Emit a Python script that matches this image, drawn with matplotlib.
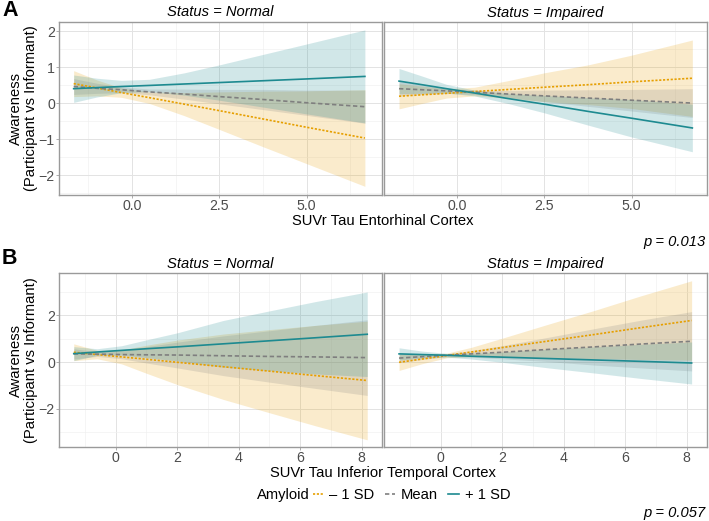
#!/usr/bin/env python
"""
Interaction plots: awareness vs tau SUVr, by amyloid level, faceted by status
"""
import numpy as np
import matplotlib.pyplot as plt
from matplotlib.ticker import FixedLocator
from matplotlib.lines import Line2D

plt.rcParams['font.family'] = ['Liberation Sans', 'DejaVu Sans']

LEVELS = ['– 1 SD', 'Mean', '+ 1 SD']
COLORS = ['#E69F00', '#7F7F7F', '#1D8A90']
STYLES = [(0, (1.3, 1.0)), (0, (2.6, 1.6)), '-']

# Panel A - entorhinal cortex (fits and CI half widths: -1SD, mean, +1SD)
ent_x_normal = [-1.67, -1.0, -0.3, 0.5, 1.5, 2.5, 3.75, 5.0, 6.67]
ent_fit_normal = [
    [0.54, 0.42, 0.29, 0.15, -0.03, -0.21, -0.44, -0.67, -0.97],
    [0.46, 0.41, 0.37, 0.31, 0.25, 0.18, 0.10, 0.01, -0.10],
    [0.40, 0.43, 0.46, 0.49, 0.53, 0.57, 0.62, 0.67, 0.74],
]
ent_ci_normal = [
    [0.36, 0.22, 0.13, 0.16, 0.32, 0.52, 0.77, 1.01, 1.34],
    [0.22, 0.14, 0.08, 0.08, 0.14, 0.20, 0.28, 0.35, 0.46],
    [0.38, 0.26, 0.17, 0.17, 0.31, 0.49, 0.73, 0.97, 1.29],
]
ent_x_impaired = [-1.66, -1.0, -0.3, 0.5, 1.5, 2.5, 3.75, 5.0, 6.74]
ent_fit_impaired = [
    [0.19, 0.23, 0.27, 0.32, 0.38, 0.44, 0.51, 0.59, 0.69],
    [0.40, 0.37, 0.34, 0.30, 0.25, 0.20, 0.14, 0.08, 0.00],
    [0.61, 0.51, 0.40, 0.28, 0.12, -0.03, -0.23, -0.42, -0.69],
]
ent_ci_impaired = [
    [0.35, 0.24, 0.13, 0.12, 0.25, 0.40, 0.55, 0.74, 1.06],
    [0.20, 0.13, 0.07, 0.06, 0.10, 0.16, 0.23, 0.30, 0.40],
    [0.35, 0.24, 0.12, 0.08, 0.14, 0.24, 0.38, 0.52, 0.66],
]

# Panel B - inferior temporal cortex
it_x_normal = [-1.36, -0.6, 0.2, 1.0, 2.0, 3.5, 5.0, 6.5, 8.18]
it_fit_normal = [
    [0.42, 0.32, 0.22, 0.12, -0.01, -0.20, -0.39, -0.58, -0.79],
    [0.35, 0.34, 0.32, 0.31, 0.30, 0.27, 0.24, 0.22, 0.19],
    [0.36, 0.43, 0.50, 0.57, 0.65, 0.78, 0.91, 1.04, 1.19],
]
it_ci_normal = [
    [0.36, 0.18, 0.30, 0.60, 0.95, 1.40, 1.78, 2.15, 2.54],
    [0.22, 0.10, 0.18, 0.35, 0.55, 0.85, 1.10, 1.35, 1.62],
    [0.30, 0.14, 0.20, 0.38, 0.60, 1.00, 1.28, 1.55, 1.81],
]
it_x_impaired = [-1.35, -0.6, 0.2, 1.0, 2.0, 3.5, 5.0, 6.5, 8.16]
it_fit_impaired = [
    [-0.01, 0.13, 0.28, 0.43, 0.62, 0.90, 1.18, 1.47, 1.78],
    [0.17, 0.23, 0.29, 0.35, 0.42, 0.54, 0.65, 0.77, 0.89],
    [0.35, 0.32, 0.29, 0.25, 0.21, 0.15, 0.09, 0.03, -0.04],
]
it_ci_impaired = [
    [0.35, 0.20, 0.10, 0.20, 0.40, 0.72, 1.03, 1.36, 1.70],
    [0.20, 0.12, 0.06, 0.14, 0.28, 0.52, 0.78, 1.02, 1.27],
    [0.26, 0.15, 0.08, 0.12, 0.22, 0.40, 0.56, 0.73, 0.90],
]

W, H = 709, 521
FS = 10.6


def style_axes(ax, xlim, ylim, xmajor, xminor, ymajor, yminor, xfmt):
    ax.set_xlim(*xlim)
    ax.set_ylim(*ylim)
    ax.xaxis.set_major_locator(FixedLocator(xmajor))
    ax.xaxis.set_minor_locator(FixedLocator(xminor))
    ax.yaxis.set_major_locator(FixedLocator(ymajor))
    ax.yaxis.set_minor_locator(FixedLocator(yminor))
    ax.set_xticklabels([xfmt.format(v) for v in xmajor])
    ax.grid(which='major', color='#E3E3E3', lw=0.7)
    ax.grid(which='minor', color='#F0F0F0', lw=0.45)
    ax.set_axisbelow(True)
    ax.tick_params(which='major', length=2.2, width=0.6, color='#A0A0A0',
                   labelsize=10.2, labelcolor='#4D4D4D', pad=0.8)
    ax.tick_params(which='minor', length=0)
    for s in ax.spines.values():
        s.set_color('#9A9A9A')
        s.set_linewidth(1.0)


def draw_panel(ax, x, fits, cis):
    x = np.array(x)
    for fit, ci, color in zip(fits, cis, COLORS):
        fit = np.array(fit)
        ci = np.array(ci)
        ax.fill_between(x, fit - ci, fit + ci, color=color, alpha=0.2, lw=0)
    for fit, color, ls in zip(fits, COLORS, STYLES):
        ax.plot(x, fit, color=color, ls=ls, lw=1.2)


fig = plt.figure(figsize=(W / 100, H / 100), dpi=100)


def px_axes(x0, y0, x1, y1):
    return fig.add_axes([x0 / W, 1 - y1 / H, (x1 - x0) / W, (y1 - y0) / H])


panels = [
    (22, 195, ent_x_normal, ent_fit_normal, ent_ci_normal,
     ent_x_impaired, ent_fit_impaired, ent_ci_impaired,
     (-2.09, 7.16), (-2.55, 2.25), [0, 2.5, 5], [-1.25, 1.25, 3.75, 6.25],
     [-2, -1, 0, 1, 2], [-2.5, -1.5, -0.5, 0.5, 1.5], '{:.1f}'),
    (273.3, 447.3, it_x_normal, it_fit_normal, it_ci_normal,
     it_x_impaired, it_fit_impaired, it_ci_impaired,
     (-1.84, 8.66), (-3.65, 3.8), [0, 2, 4, 6, 8], [-1, 1, 3, 5, 7],
     [-2, 0, 2], [-3, -1, 1, 3], '{:d}'),
]

for (top, bot, xn, fn, cn, xi, fi, ci, xlim, ylim, xmaj, xmin,
     ymaj, ymin, fmt) in panels:
    ax_n = px_axes(59, top, 382, bot)
    ax_i = px_axes(384, top, 707, bot)
    draw_panel(ax_n, xn, fn, cn)
    draw_panel(ax_i, xi, fi, ci)
    for ax in (ax_n, ax_i):
        style_axes(ax, xlim, ylim, xmaj, xmin, ymaj, ymin, fmt)
    ax_i.set_yticklabels([])
    ax_i.tick_params(axis='y', length=0)
    tc = top - 9.5
    fig.text((59 + 382) / 2 / W, 1 - tc / H, 'Status = Normal',
             style='italic', fontsize=FS, ha='center', va='center')
    fig.text((384 + 707) / 2 / W, 1 - tc / H, 'Status = Impaired',
             style='italic', fontsize=FS, ha='center', va='center')
    fig.text(23.5 / W, 1 - (top + bot) / 2 / H,
             'Awareness\n(Participant vs Informant)', rotation=90,
             fontsize=FS, ha='center', va='center', multialignment='center',
             linespacing=1.1)

fig.text(2 / W, 1 - 0.5 / H, 'A', fontsize=15.5, weight='bold', ha='left', va='top')
fig.text(2 / W, 1 - 248.5 / H, 'B', fontsize=15.5, weight='bold', ha='left', va='top')

fig.text(383 / W, 1 - 221 / H, 'SUVr Tau Entorhinal Cortex',
         fontsize=FS, ha='center', va='center')
fig.text(383 / W, 1 - 472.5 / H, 'SUVr Tau Inferior Temporal Cortex',
         fontsize=FS, ha='center', va='center')

fig.text(706 / W, 1 - 246.5 / H, 'p = 0.013', style='italic', fontsize=FS,
         ha='right', va='baseline')
fig.text(706 / W, 1 - 516.5 / H, 'p = 0.057', style='italic', fontsize=FS,
         ha='right', va='baseline')

# legend
fig.text(257 / W, 1 - 495 / H, 'Amyloid', fontsize=FS, ha='left', va='center')
handles = [Line2D([], [], color=c, ls=s, lw=1.2) for c, s in zip(COLORS, STYLES)]
fig.legend(handles, LEVELS, loc='center left', bbox_to_anchor=(313 / W, 1 - 495 / H),
           ncol=3, frameon=False, fontsize=FS, handlelength=0.7,
           handletextpad=0.4, columnspacing=0.7, borderpad=0, borderaxespad=0)

fig.savefig('out.png', dpi=100)
